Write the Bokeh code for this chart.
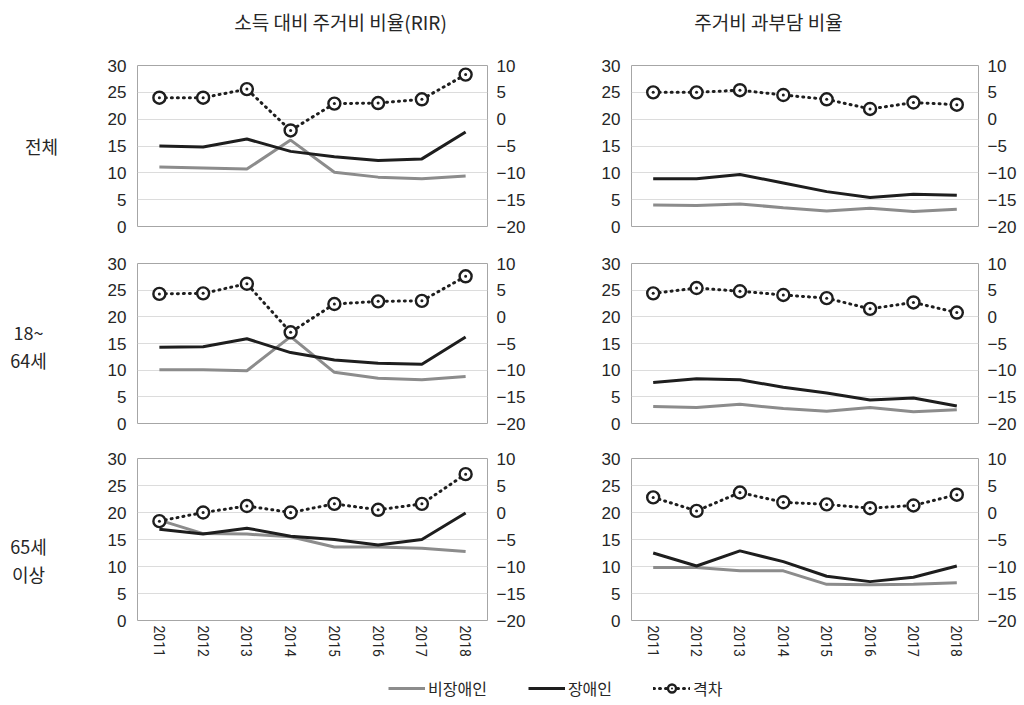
from bokeh.plotting import figure
from bokeh.models import (Range1d, LinearAxis, FixedTicker, FactorRange, Legend,
                          LegendItem, ColumnDataSource)
from bokeh.layouts import column, row
from bokeh.core.properties import value
from bokeh.embed import file_html
from bokeh.resources import INLINE

# ---------------- data ----------------
years = ["2011", "2012", "2013", "2014", "2015", "2016", "2017", "2018"]

col_titles = ["소득 대비 주거비 비율(RIR)", "주거비 과부담 비율"]
row_labels = ["전체", "18~", "64세", "65세", "이상"]
series_names = ["비장애인", "장애인", "격차"]

# RIR - 전체
rir_all_non = [11.1, 10.9, 10.7, 16.1, 10.1, 9.2, 8.9, 9.4]
rir_all_dis = [15.0, 14.8, 16.3, 14.0, 13.0, 12.3, 12.6, 17.6]
rir_all_gap = [4.0, 4.0, 5.6, -2.1, 2.9, 3.0, 3.7, 8.3]
# 과부담 - 전체
ovr_all_non = [4.0, 3.9, 4.2, 3.5, 2.9, 3.4, 2.8, 3.2]
ovr_all_dis = [8.9, 8.9, 9.7, 8.1, 6.5, 5.4, 6.0, 5.8]
ovr_all_gap = [5.0, 5.0, 5.4, 4.5, 3.7, 1.9, 3.1, 2.7]
# RIR - 18~64세
rir_mid_non = [10.1, 10.1, 9.9, 16.3, 9.6, 8.5, 8.2, 8.8]
rir_mid_dis = [14.3, 14.4, 15.9, 13.3, 11.9, 11.3, 11.1, 16.2]
rir_mid_gap = [4.3, 4.4, 6.2, -2.9, 2.4, 2.9, 3.0, 7.6]
# 과부담 - 18~64세
ovr_mid_non = [3.2, 3.0, 3.6, 2.8, 2.3, 3.0, 2.2, 2.6]
ovr_mid_dis = [7.7, 8.4, 8.2, 6.8, 5.7, 4.4, 4.8, 3.3]
ovr_mid_gap = [4.4, 5.4, 4.8, 4.1, 3.5, 1.5, 2.7, 0.8]
# RIR - 65세 이상
rir_old_non = [18.6, 16.1, 16.0, 15.5, 13.6, 13.6, 13.4, 12.8]
rir_old_dis = [16.9, 16.0, 17.1, 15.6, 15.0, 14.0, 15.0, 19.9]
rir_old_gap = [-1.6, 0.0, 1.2, 0.0, 1.6, 0.5, 1.6, 7.1]
# 과부담 - 65세 이상
ovr_old_non = [9.8, 9.8, 9.2, 9.2, 6.7, 6.6, 6.7, 7.0]
ovr_old_dis = [12.5, 10.1, 12.9, 10.9, 8.2, 7.2, 8.0, 10.1]
ovr_old_gap = [2.8, 0.3, 3.7, 1.9, 1.5, 0.8, 1.3, 3.3]

left_ticks = [0, 5, 10, 15, 20, 25, 30]
right_ticks = [-20, -15, -10, -5, 0, 5, 10]

# ---------------- styles ----------------
NUM_FONT = "Liberation Sans"
YEAR_FONT = "Roboto"
KR_FONT = "Noto Sans CJK KR"
TXT = "#262626"
GRAY = "#8c8c8c"
BLACK = "#1e1e1e"
DOT = "1 5"

minus_over = {}
for t in right_ticks:
    if t < 0:
        minus_over[t] = "\u2212" + str(-t)


def style_axis(ax, size="17px", font=NUM_FONT):
    ax.axis_line_color = None
    ax.major_tick_line_color = None
    ax.minor_tick_line_color = None
    ax.major_tick_out = 0
    ax.major_tick_in = 0
    ax.major_label_text_font = font
    ax.major_label_text_font_size = size
    ax.major_label_text_color = TXT


def draw_series(p, src, marker_size=12):
    r_non = p.line("x", "non", source=src, line_color=GRAY, line_width=3)
    r_dis = p.line("x", "dis", source=src, line_color=BLACK, line_width=3)
    r_gl = p.line("x", "gap", source=src, y_range_name="gap", line_color=BLACK,
                  line_width=3, line_dash=DOT, line_cap="round")
    r_gm = p.scatter("x", "gap", source=src, y_range_name="gap",
                     marker="circle_dot", size=marker_size, line_color=BLACK,
                     line_width=2.4, fill_color="white")
    return r_non, r_dis, r_gl, r_gm


def panel(non, dis, gap, bl, fw, br, bt, fh, bb, show_x):
    p = figure(x_range=FactorRange(*years), y_range=Range1d(0, 30),
               frame_width=fw, frame_height=fh,
               min_border_left=bl, min_border_right=br,
               min_border_top=bt, min_border_bottom=bb,
               output_backend="svg", toolbar_location=None,
               background_fill_color="white", border_fill_color="white")
    p.extra_y_ranges = {"gap": Range1d(-20, 10)}
    p.outline_line_color = "#a6a6a6"
    p.outline_line_width = 1
    p.xgrid.visible = False
    p.ygrid.ticker = FixedTicker(ticks=left_ticks)
    p.ygrid.grid_line_color = "#dcdcdc"
    p.ygrid.grid_line_width = 1

    p.yaxis.ticker = FixedTicker(ticks=left_ticks)
    style_axis(p.yaxis[0])
    p.yaxis.major_label_standoff = 11

    rax = LinearAxis(y_range_name="gap", ticker=FixedTicker(ticks=right_ticks))
    style_axis(rax)
    rax.major_label_standoff = 9
    rax.major_label_overrides = minus_over
    p.add_layout(rax, "right")

    if show_x:
        xa = p.xaxis[0]
        style_axis(xa, "14px", YEAR_FONT)
        xa.major_label_orientation = "vertical"
        xa.major_label_standoff = 5
    else:
        p.xaxis.visible = False

    src = ColumnDataSource(dict(x=years, non=non, dis=dis, gap=gap))
    draw_series(p, src)
    return p


# left column: border left 77, frame 350, border right 72
# right column: border left 72, frame 347, border right 46
p11 = panel(rir_all_non, rir_all_dis, rir_all_gap, 77, 350, 72, 25, 161, 19, False)
p12 = panel(ovr_all_non, ovr_all_dis, ovr_all_gap, 72, 347, 46, 25, 161, 19, False)
p21 = panel(rir_mid_non, rir_mid_dis, rir_mid_gap, 77, 350, 72, 18, 160, 17, False)
p22 = panel(ovr_mid_non, ovr_mid_dis, ovr_mid_gap, 72, 347, 46, 18, 160, 17, False)
p31 = panel(rir_old_non, rir_old_dis, rir_old_gap, 77, 350, 72, 18, 162, 40, True)
p32 = panel(ovr_old_non, ovr_old_dis, ovr_old_gap, 72, 347, 46, 18, 162, 40, True)


def blank(w, h, xr, yr):
    f = figure(width=w, height=h, x_range=xr, y_range=yr,
               output_backend="svg", toolbar_location=None,
               min_border=0, border_fill_color="white",
               background_fill_color="white")
    f.axis.visible = False
    f.grid.visible = False
    f.outline_line_color = None
    return f


# header with column titles
head = blank(1024, 40, Range1d(0, 1024), Range1d(40, 0))
head.text(x=[340, 768], y=[21, 21], text=col_titles,
          text_font=value(KR_FONT), text_font_size="19px",
          text_color=TXT, text_align="center", text_baseline="middle")

# row labels
lab = blank(60, 620, Range1d(0, 60), Range1d(660, 40))
lab.text(x=[41, 28, 28, 28, 28], y=[145, 331, 359, 545, 573], text=row_labels,
         text_font=value(KR_FONT), text_font_size="18px",
         text_color=TXT, text_align="center", text_baseline="middle")

# legend: the series are drawn in a figure whose y range lies outside the
# data, so only their legend entries are visible
leg = blank(1024, 45, FactorRange(*years), Range1d(100, 101))
leg_src = ColumnDataSource(dict(x=years, non=rir_all_non, dis=rir_all_dis,
                                gap=rir_all_gap))
leg.extra_y_ranges = {"gap": Range1d(100, 101)}
l_non, l_dis, l_gl, l_gm = draw_series(leg, leg_src, marker_size=11)
legend = Legend(items=[LegendItem(label=series_names[0], renderers=[l_non]),
                       LegendItem(label=series_names[1], renderers=[l_dis]),
                       LegendItem(label=series_names[2], renderers=[l_gl, l_gm])],
                orientation="horizontal", location=(388, 5),
                glyph_width=37, glyph_height=20, label_standoff=3, spacing=41,
                padding=0, margin=0, border_line_color=None,
                background_fill_alpha=0,
                label_text_font=KR_FONT, label_text_font_size="16px",
                label_text_color=TXT, label_height=20)
leg.add_layout(legend, "center")

grid = column(row(p11, p12), row(p21, p22), row(p31, p32))
layout = column(head, row(lab, grid), leg)

open("out.html", "w").write(file_html(layout, INLINE))
